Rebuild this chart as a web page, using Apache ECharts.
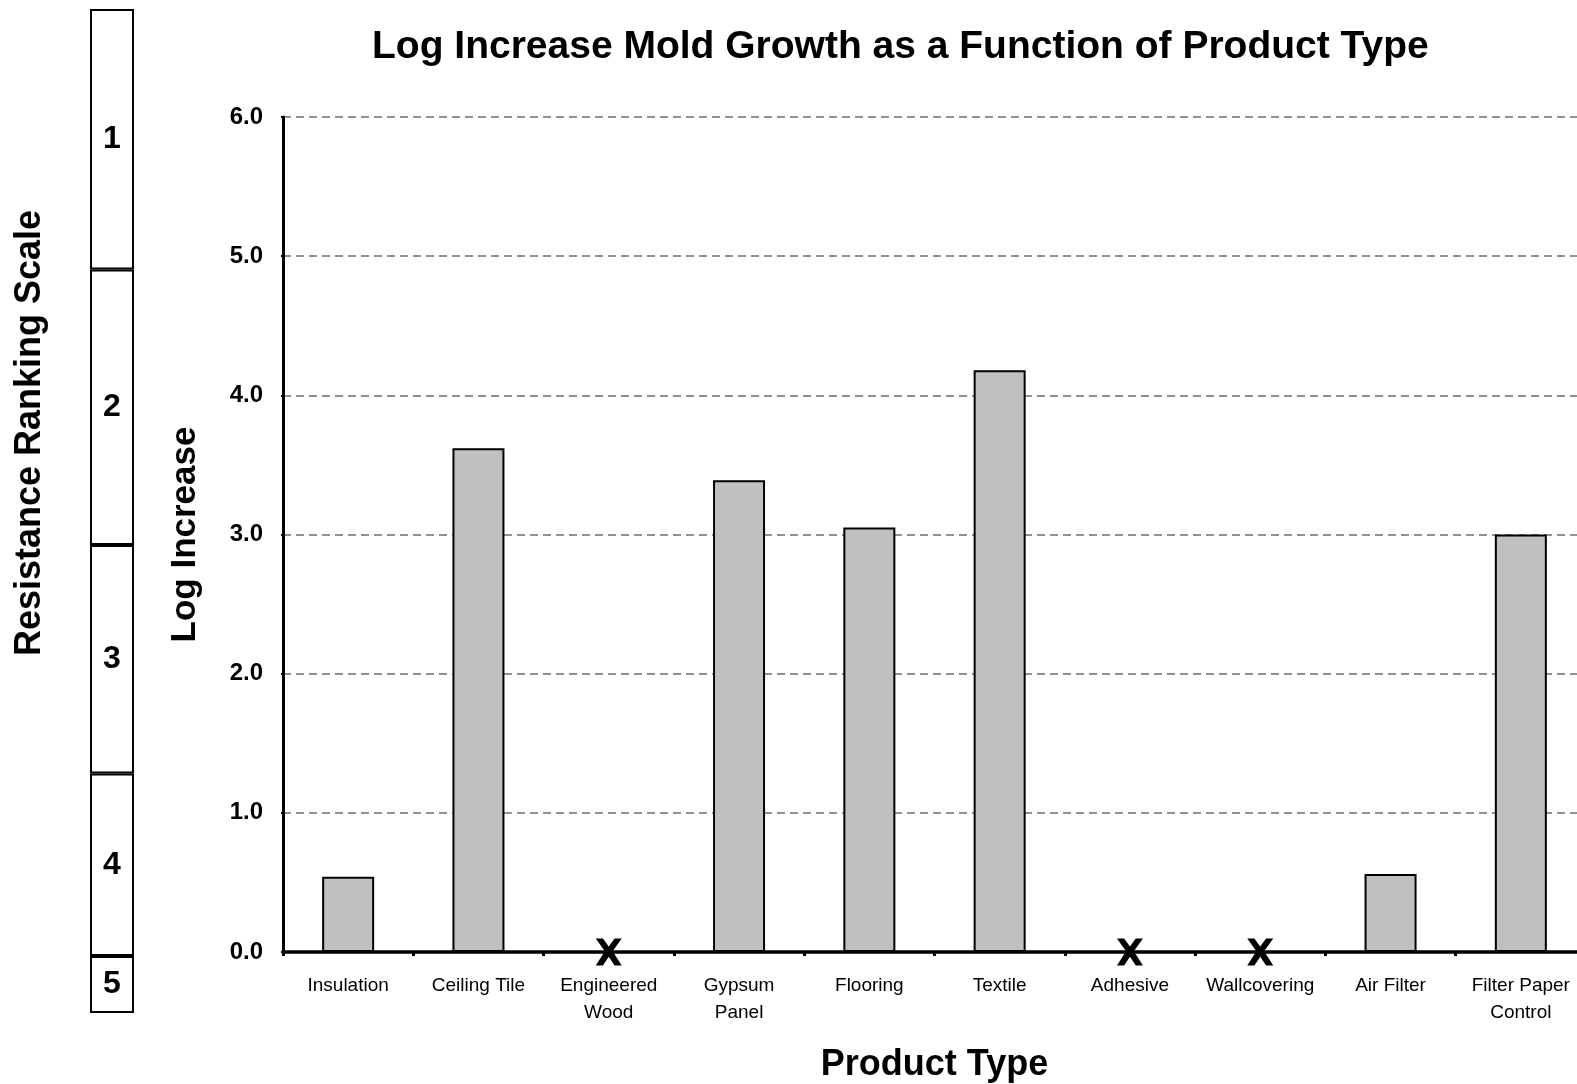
<!DOCTYPE html>
<html>
<head>
<meta charset="utf-8">
<script src="https://cdn.jsdelivr.net/npm/echarts@6/dist/echarts.min.js"></script>
<style>
  html, body { margin: 0; padding: 0; background: #fff; }
  #chart { width: 1577px; height: 1084px; }
</style>
</head>
<body>
<div id="chart"></div>
<script>
// product categories and log increase (null = no growth, drawn as an x)
var categories = ['Insulation', 'Ceiling Tile', 'Engineered\nWood', 'Gypsum\nPanel', 'Flooring',
                  'Textile', 'Adhesive', 'Wallcovering', 'Air Filter', 'Filter Paper\nControl'];
var logIncrease = [0.54, 3.62, null, 3.39, 3.05, 4.18, null, null, 0.56, 3.00];
var yTicks = [0, 1, 2, 3, 4, 5, 6];

// resistance ranking scale, upper and lower edge of each band (in log units)
var rankLevels = ['1', '2', '3', '4', '5'];
var rankUpper = [6.80, 4.93, 2.95, 1.31, 0];
var rankLower = [4.93, 2.95, 1.31, 0, -0.41];

var font = "'Liberation Sans', Arial, sans-serif";

var noGrowth = [];
logIncrease.forEach(function (v, i) {
    if (v === null) noGrowth.push([i, 0]);
});

// stack from the bottom band up, so go through the levels backwards
var rankSeries = [];
for (var i = rankLevels.length - 1; i >= 0; i--) {
    var h = +(rankUpper[i] - rankLower[i]).toFixed(2);
    rankSeries.push({
        name: 'rank' + rankLevels[i],
        type: 'bar',
        xAxisIndex: 1,
        yAxisIndex: 1,
        stack: 'rank',
        barWidth: '100%',
        data: [rankUpper[i] > 0 ? h : -h],
        itemStyle: { color: '#fff', borderColor: '#000', borderWidth: 2 },
        label: {
            show: true,
            position: 'inside',
            formatter: rankLevels[i],
            color: '#000',
            fontFamily: font,
            fontWeight: 'bold',
            fontSize: 32
        },
        silent: true
    });
}

var chart = echarts.init(document.getElementById('chart'));
chart.setOption({
    animation: false,
    backgroundColor: '#fff',
    title: {
        text: 'Log Increase Mold Growth as a Function of Product Type',
        left: 372,
        top: 28,
        padding: 0,
        textStyle: { fontFamily: font, fontWeight: 'bold', fontSize: 39, color: '#000' }
    },
    graphic: [{
        type: 'text',
        x: 30,
        y: 433,
        rotation: Math.PI / 2,
        style: {
            text: 'Resistance Ranking Scale',
            fontFamily: font,
            fontWeight: 'bold',
            fontSize: 36,
            fill: '#000',
            align: 'center',
            verticalAlign: 'middle'
        }
    }],
    grid: [
        { left: 283, width: 1303, top: 117, bottom: 132, outerBoundsMode: 'none' },
        { left: 90, width: 44, top: 9, bottom: 71, outerBoundsMode: 'none' }
    ],
    xAxis: [{
        type: 'category',
        data: categories,
        gridIndex: 0,
        name: 'Product Type',
        nameLocation: 'middle',
        nameGap: 95,
        nameTextStyle: { fontFamily: font, fontWeight: 'bold', fontSize: 36, color: '#000' },
        axisLine: { lineStyle: { color: '#000', width: 3.5 } },
        axisTick: { show: true, length: 4, lineStyle: { color: '#000', width: 3 } },
        axisLabel: {
            interval: 0,
            margin: 20,
            fontFamily: font,
            fontSize: 19,
            lineHeight: 27,
            color: '#000'
        },
        splitLine: { show: false }
    }, {
        type: 'category',
        data: ['scale'],
        gridIndex: 1,
        show: false
    }],
    yAxis: [{
        type: 'value',
        gridIndex: 0,
        min: yTicks[0],
        max: yTicks[yTicks.length - 1],
        interval: 1,
        name: 'Log Increase',
        nameLocation: 'middle',
        nameGap: 80,
        nameTextStyle: { fontFamily: font, fontWeight: 'bold', fontSize: 35, color: '#000' },
        axisLine: { show: true, lineStyle: { color: '#000', width: 3 } },
        axisTick: { show: true, length: 2, lineStyle: { color: '#000', width: 2 } },
        axisLabel: {
            margin: 20,
            fontFamily: font,
            fontWeight: 'bold',
            fontSize: 24,
            color: '#000',
            formatter: function (v) { return v.toFixed(1); }
        },
        splitLine: { show: true, lineStyle: { color: '#6e6e6e', width: 1.5, type: [8, 5] } }
    }, {
        type: 'value',
        gridIndex: 1,
        min: rankLower[rankLower.length - 1],
        max: rankUpper[0],
        show: false
    }],
    series: [{
        name: 'Log Increase',
        type: 'bar',
        xAxisIndex: 0,
        yAxisIndex: 0,
        barWidth: 52,
        data: logIncrease,
        itemStyle: { color: '#c0c0c0', borderColor: '#000', borderWidth: 2 }
    }, {
        name: 'No growth',
        type: 'scatter',
        xAxisIndex: 0,
        yAxisIndex: 0,
        data: noGrowth,
        symbol: 'path://M0,0 L11,0 L20,12 L29,0 L40,0 L26,19 L40,40 L29,40 L20,27 L11,40 L0,40 L14,19 Z',
        symbolSize: [26, 27],
        itemStyle: { color: '#000', opacity: 1 },
        z: 5
    }].concat(rankSeries)
});
</script>
</body>
</html>
